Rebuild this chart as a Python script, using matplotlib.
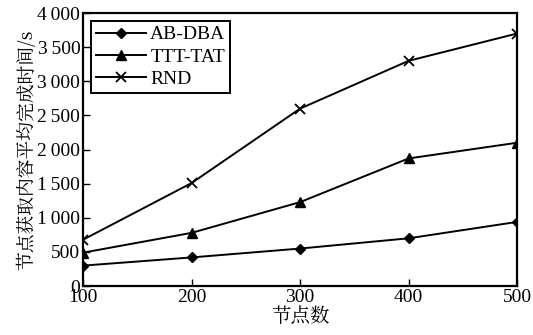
import matplotlib
matplotlib.use("Agg")
import matplotlib.pyplot as plt
from matplotlib.ticker import FuncFormatter

nodes = [100, 200, 300, 400, 500]
ab_dba = [300, 420, 550, 700, 940]
ttt_tat = [490, 780, 1230, 1870, 2100]
rnd = [680, 1510, 2600, 3300, 3700]

plt.rcParams['font.family'] = ['Liberation Serif', 'DejaVu Serif']
plt.rcParams['font.size'] = 11

fig = plt.figure(figsize=(5.33, 3.35), dpi=100)
ax = fig.add_axes([0.156, 0.146, 0.814, 0.815])

ax.plot(nodes, ab_dba, color='black', lw=1.4, marker='D', ms=5.5, label='AB-DBA')
ax.plot(nodes, ttt_tat, color='black', lw=1.4, marker='^', ms=6.5, label='TTT-TAT')
ax.plot(nodes, rnd, color='black', lw=1.4, marker='x', ms=7.5, mew=1.3, label='RND')

ax.set_xlim(100, 500)
ax.set_ylim(0, 4000)
ax.set_xticks(nodes)
ax.set_yticks(range(0, 4001, 500))


def thousands(v, pos):
    v = int(v)
    if v >= 1000:
        return '%d\u2009%03d' % (v // 1000, v % 1000)
    return str(v)


ax.yaxis.set_major_formatter(FuncFormatter(thousands))
ax.tick_params(direction='in', length=5, width=1, labelsize=14, pad=2)
for s in ax.spines.values():
    s.set_linewidth(1.6)

cjk = ['Noto Serif CJK SC', 'Noto Sans CJK SC', 'DejaVu Sans']
ax.set_xlabel('节点数', family=cjk, fontsize=14, labelpad=1)
ax.set_ylabel('节点获取内容平均完成时间/s', family=cjk, fontsize=13.5, labelpad=0)

leg = ax.legend(loc='upper left', fontsize=14, handlelength=2.6, fancybox=False,
                framealpha=1, edgecolor='black', borderpad=0.25, labelspacing=0.25,
                handletextpad=0.2, borderaxespad=0.4)
leg.get_frame().set_linewidth(1.4)

fig.savefig('out.png', dpi=100)
